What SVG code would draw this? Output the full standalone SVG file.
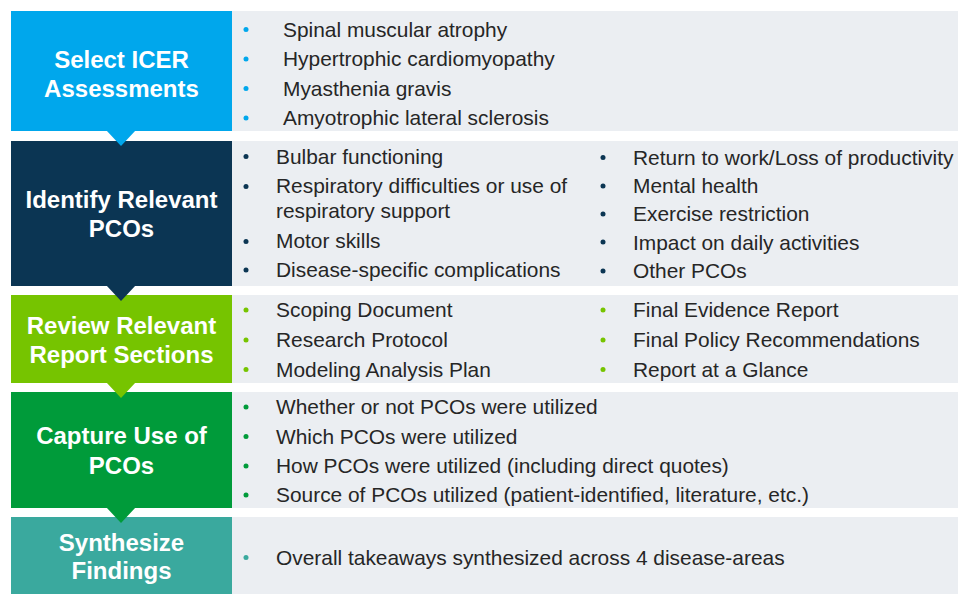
<svg xmlns="http://www.w3.org/2000/svg" width="958" height="594" viewBox="0 0 958 594">
  <style>
    .panel { fill: #EBEEF2; }
    .title { font-family: "Liberation Sans", Arial, sans-serif; font-size: 24px; font-weight: bold; fill: #FFFFFF; text-anchor: middle; }
    .item { font-family: "Liberation Sans", Arial, sans-serif; font-size: 20.9px; fill: #262626; }
    .c1 { fill: #00A7EC; }
    .c2 { fill: #0B3553; }
    .c3 { fill: #76C400; }
    .c4 { fill: #009B3A; }
    .c5 { fill: #3AA99E; }
  </style>
  <rect width="958" height="594" fill="#FFFFFF"/>

  <!-- detail panels -->
  <g id="panels">
    <rect class="panel" x="232" y="11" width="726" height="120"/>
    <rect class="panel" x="232" y="141" width="726" height="145"/>
    <rect class="panel" x="232" y="295" width="726" height="88"/>
    <rect class="panel" x="232" y="392" width="726" height="116"/>
    <rect class="panel" x="232" y="517" width="726" height="77"/>
  </g>

  <!-- step 1 -->
  <g id="step-select">
    <rect class="c1" x="11" y="11" width="221" height="120"/>
    <text class="title" x="121.5" y="68">Select ICER</text>
    <text class="title" x="121.5" y="96.5">Assessments</text>
    <g class="c1">
      <circle cx="246" cy="29.5" r="2.5"/>
      <circle cx="246" cy="59" r="2.5"/>
      <circle cx="246" cy="88.5" r="2.5"/>
      <circle cx="246" cy="118" r="2.5"/>
    </g>
    <text class="item" x="283" y="36.5">Spinal muscular atrophy</text>
    <text class="item" x="283" y="66">Hypertrophic cardiomyopathy</text>
    <text class="item" x="283" y="95.5">Myasthenia gravis</text>
    <text class="item" x="283" y="125">Amyotrophic lateral sclerosis</text>
  </g>

  <!-- step 2 -->
  <g id="step-identify">
    <rect class="c2" x="11" y="141" width="221" height="145"/>
    <text class="title" x="121.5" y="208.3">Identify Relevant</text>
    <text class="title" x="121.5" y="236.7">PCOs</text>
    <g class="c2">
      <circle cx="246" cy="156.5" r="2.5"/>
      <circle cx="246" cy="186.5" r="2.5"/>
      <circle cx="246" cy="241.5" r="2.5"/>
      <circle cx="246" cy="270" r="2.5"/>
      <circle cx="603" cy="157.5" r="2.5"/>
      <circle cx="603" cy="186" r="2.5"/>
      <circle cx="603" cy="214" r="2.5"/>
      <circle cx="603" cy="242" r="2.5"/>
      <circle cx="603" cy="271" r="2.5"/>
    </g>
    <text class="item" x="276" y="163.5">Bulbar functioning</text>
    <text class="item" x="276" y="193.3">Respiratory difficulties or use of</text>
    <text class="item" x="276" y="218.3">respiratory support</text>
    <text class="item" x="276" y="248.3">Motor skills</text>
    <text class="item" x="276" y="277">Disease-specific complications</text>
    <text class="item" x="633" y="165">Return to work/Loss of productivity</text>
    <text class="item" x="633" y="193">Mental health</text>
    <text class="item" x="633" y="221">Exercise restriction</text>
    <text class="item" x="633" y="249.5">Impact on daily activities</text>
    <text class="item" x="633" y="278">Other PCOs</text>
  </g>

  <!-- step 3 -->
  <g id="step-review">
    <rect class="c3" x="11" y="295" width="221" height="88"/>
    <text class="title" x="121.5" y="334">Review Relevant</text>
    <text class="title" x="121.5" y="362.7">Report Sections</text>
    <g class="c3">
      <circle cx="246" cy="310" r="2.5"/>
      <circle cx="246" cy="340" r="2.5"/>
      <circle cx="246" cy="369.5" r="2.5"/>
      <circle cx="603" cy="310" r="2.5"/>
      <circle cx="603" cy="340" r="2.5"/>
      <circle cx="603" cy="369.5" r="2.5"/>
    </g>
    <text class="item" x="276" y="317">Scoping Document</text>
    <text class="item" x="276" y="347">Research Protocol</text>
    <text class="item" x="276" y="376.7">Modeling Analysis Plan</text>
    <text class="item" x="633" y="317.3">Final Evidence Report</text>
    <text class="item" x="633" y="347.3">Final Policy Recommendations</text>
    <text class="item" x="633" y="376.7">Report at a Glance</text>
  </g>

  <!-- step 4 -->
  <g id="step-capture">
    <rect class="c4" x="11" y="392" width="221" height="116"/>
    <text class="title" x="121.5" y="444.3">Capture Use of</text>
    <text class="title" x="121.5" y="474">PCOs</text>
    <g class="c4">
      <circle cx="246" cy="407" r="2.5"/>
      <circle cx="246" cy="436.5" r="2.5"/>
      <circle cx="246" cy="466" r="2.5"/>
      <circle cx="246" cy="495" r="2.5"/>
    </g>
    <text class="item" x="276" y="414">Whether or not PCOs were utilized</text>
    <text class="item" x="276" y="443.5">Which PCOs were utilized</text>
    <text class="item" x="276" y="473">How PCOs were utilized (including direct quotes)</text>
    <text class="item" x="276" y="502">Source of PCOs utilized (patient-identified, literature, etc.)</text>
  </g>

  <!-- step 5 -->
  <g id="step-synthesize">
    <rect class="c5" x="11" y="517" width="221" height="77"/>
    <text class="title" x="121.5" y="550.5">Synthesize</text>
    <text class="title" x="121.5" y="579.3">Findings</text>
    <circle class="c5" cx="246" cy="557.5" r="2.5"/>
    <text class="item" x="276" y="564.5">Overall takeaways synthesized across 4 disease-areas</text>
  </g>

  <!-- step-to-step pointers -->
  <g id="connectors">
    <polygon class="c1" points="106,130 136,130 121,146"/>
    <polygon class="c2" points="106,285 136,285 121,301"/>
    <polygon class="c3" points="106,382 136,382 121,398"/>
    <polygon class="c4" points="106,507 136,507 121,523"/>
  </g>
</svg>
